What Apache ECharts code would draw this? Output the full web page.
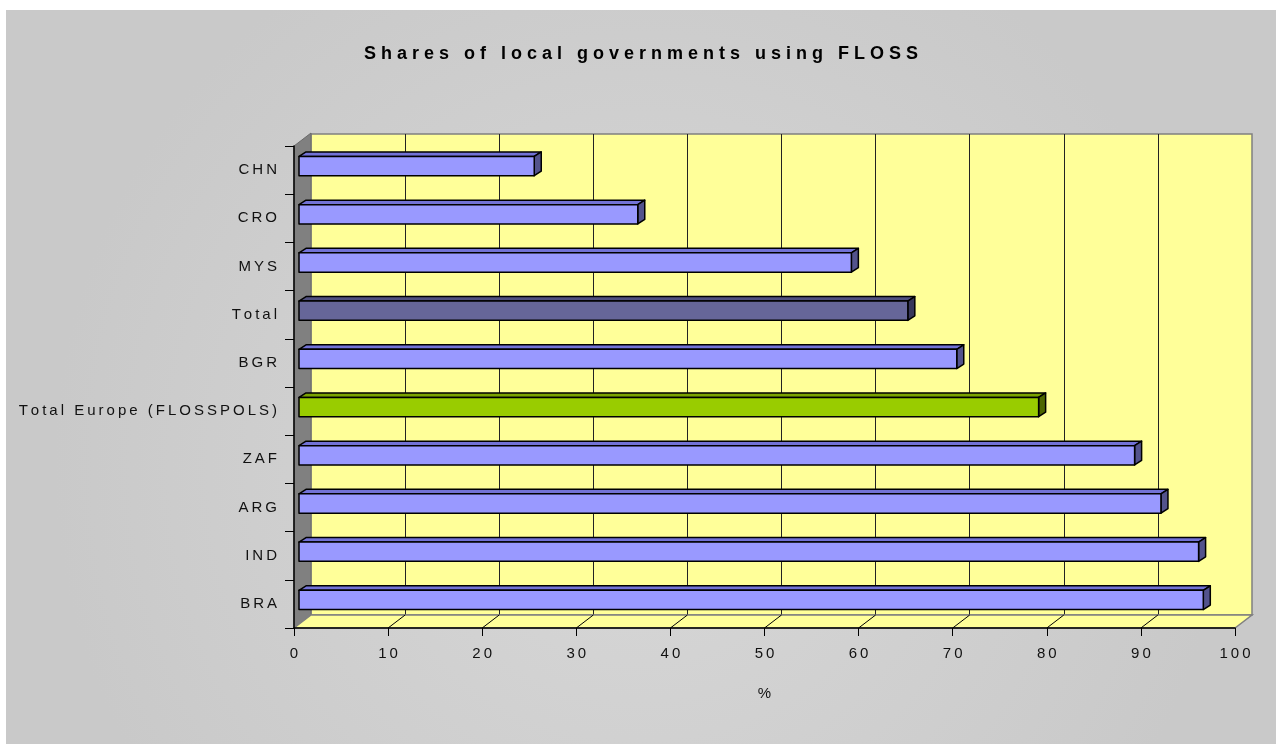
<!DOCTYPE html>
<html>
<head>
<meta charset="utf-8">
<title>Shares of local governments using FLOSS</title>
<script src="https://cdn.jsdelivr.net/npm/echarts@6/dist/echarts.min.js"></script>
<style>
  html, body { margin: 0; padding: 0; background: #fff; }
  #chart { position: absolute; left: 6px; top: 10px; width: 1270px; height: 734px; }
</style>
</head>
<body>
<div id="chart"></div>
<script>
  // data, top to bottom
  let countries = ['CHN', 'CRO', 'MYS', 'Total', 'BGR', 'Total Europe (FLOSSPOLS)', 'ZAF', 'ARG', 'IND', 'BRA']
  let shares = [25.0, 36.0, 58.7, 64.7, 69.9, 78.6, 88.8, 91.6, 95.6, 96.1]
  let xTicks = [0, 10, 20, 30, 40, 50, 60, 70, 80, 90, 100]

  let faces = {
    normal: ['#9999FF', '#7272D6', '#53538C'],
    'Total': ['#666699', '#50507F', '#37375A'],
    'Total Europe (FLOSSPOLS)': ['#99CC00', '#7AA300', '#4D6600']
  }
  let font = '"Liberation Sans", Arial, sans-serif'
  let wallDepth = [17, -13]
  let barShift = [5, -4]
  let barDepth = [7, -4.5]

  // excel-like spread out lettering
  let spaced = (s, gap) => String(s).split('').join(gap || '\u2009')

  function renderWalls(params, api) {
    let cs = params.coordSys
    let dx = wallDepth[0], dy = wallDepth[1]
    let bl = [cs.x, cs.y + cs.height]
    let br = [cs.x + cs.width, cs.y + cs.height]
    let children = [
      {
        type: 'polygon',
        shape: { points: [[cs.x, cs.y], [cs.x + dx, cs.y + dy], [bl[0] + dx, bl[1] + dy], bl] },
        style: { fill: '#808080', stroke: '#6a6a6a', lineWidth: 1 }
      },
      {
        type: 'polygon',
        shape: { points: [bl, br, [br[0] + dx, br[1] + dy], [bl[0] + dx, bl[1] + dy]] },
        style: { fill: '#FFFF99', stroke: '#808080', lineWidth: 1.5 }
      }
    ]
    xTicks.forEach(t => {
      if (t <= xTicks[0] || t >= xTicks[xTicks.length - 1]) return
      let x = api.coord([t, 0])[0]
      children.push({
        type: 'line',
        shape: { x1: x, y1: bl[1], x2: x + dx, y2: bl[1] + dy },
        style: { stroke: '#000', lineWidth: 1 }
      })
    })
    return { type: 'group', children: children }
  }

  function renderBar(params, api) {
    let val = api.value(0)
    let idx = api.value(1)
    let name = countries[idx]
    let c = faces[name] || faces.normal
    let start = api.coord([0, idx])
    let end = api.coord([val, idx])
    let h = api.size([0, 1])[1] * 0.4
    let x0 = start[0] + barShift[0]
    let x1 = end[0] + barShift[0]
    let yTop = start[1] + barShift[1] - h / 2
    let yBot = yTop + h
    let dx = barDepth[0], dy = barDepth[1]
    let line = { stroke: '#000', lineWidth: 1.5, lineJoin: 'round' }
    return {
      type: 'group',
      children: [
        {
          type: 'polygon',
          shape: { points: [[x0, yTop], [x1, yTop], [x1 + dx, yTop + dy], [x0 + dx, yTop + dy]] },
          style: Object.assign({ fill: c[1] }, line)
        },
        {
          type: 'polygon',
          shape: { points: [[x1, yTop], [x1 + dx, yTop + dy], [x1 + dx, yBot + dy], [x1, yBot]] },
          style: Object.assign({ fill: c[2] }, line)
        },
        {
          type: 'rect',
          shape: { x: x0, y: yTop, width: x1 - x0, height: h },
          style: Object.assign({ fill: c[0] }, line)
        }
      ]
    }
  }

  let chart = echarts.init(document.getElementById('chart'))
  let options = {
    backgroundColor: {
      type: 'radial', x: 0.5, y: 0.62, r: 0.8,
      colorStops: [{ offset: 0, color: '#D8D8D8' }, { offset: 1, color: '#C9C9C9' }]
    },
    animation: false,
    title: {
      text: spaced('Shares of local governments using FLOSS', ' '),
      left: 'center',
      top: 30,
      textStyle: { fontFamily: font, fontSize: 18, fontWeight: 'bold', color: '#000' }
    },
    grid: [
      // front plane
      { left: 288, right: 41, top: 136, bottom: 116, outerBoundsMode: 'none', containLabel: false },
      // back wall
      { left: 305, right: 24, top: 124, bottom: 129, outerBoundsMode: 'none', containLabel: false, show: true,
        backgroundColor: '#FFFF99', borderColor: '#808080', borderWidth: 1.5 }
    ],
    xAxis: [
      {
        type: 'value', gridIndex: 0, min: 0, max: 100, interval: 10, z: 5,
        name: '%', nameLocation: 'middle', nameGap: 58,
        nameTextStyle: { fontFamily: font, fontSize: 15, color: '#111' },
        axisLine: { show: true, lineStyle: { color: '#000', width: 1.5 } },
        axisTick: { show: true, length: 8, lineStyle: { color: '#000' } },
        axisLabel: { margin: 18, fontFamily: font, fontSize: 15, color: '#111', formatter: v => spaced(v) },
        splitLine: { show: false }
      },
      {
        type: 'value', gridIndex: 1, min: 0, max: 100, interval: 10,
        axisLine: { show: false }, axisTick: { show: false }, axisLabel: { show: false },
        splitLine: { show: true, showMinLine: false, showMaxLine: false, lineStyle: { color: '#222', width: 1 } }
      }
    ],
    yAxis: [
      {
        type: 'category', gridIndex: 0, inverse: true, data: countries, z: 5,
        axisLine: { show: true, lineStyle: { color: '#000', width: 1.5 } },
        axisTick: { show: true, length: 9, lineStyle: { color: '#000' } },
        axisLabel: { margin: 17, fontFamily: font, fontSize: 15, color: '#111', formatter: v => spaced(v) }
      },
      {
        type: 'value', gridIndex: 1, min: 0, max: 1,
        axisLine: { show: false }, axisTick: { show: false }, axisLabel: { show: false }, splitLine: { show: false }
      }
    ],
    series: [
      {
        type: 'custom', xAxisIndex: 0, yAxisIndex: 0, clip: false, z: 1,
        renderItem: renderWalls,
        data: [[0, 0]],
        encode: { x: 0, y: 1 },
        silent: true
      },
      {
        type: 'custom', xAxisIndex: 0, yAxisIndex: 0, clip: false, z: 2,
        renderItem: renderBar,
        data: shares.map((v, i) => [v, i]),
        encode: { x: 0, y: 1 }
      }
    ]
  }
  chart.setOption(options, true)
</script>
</body>
</html>
